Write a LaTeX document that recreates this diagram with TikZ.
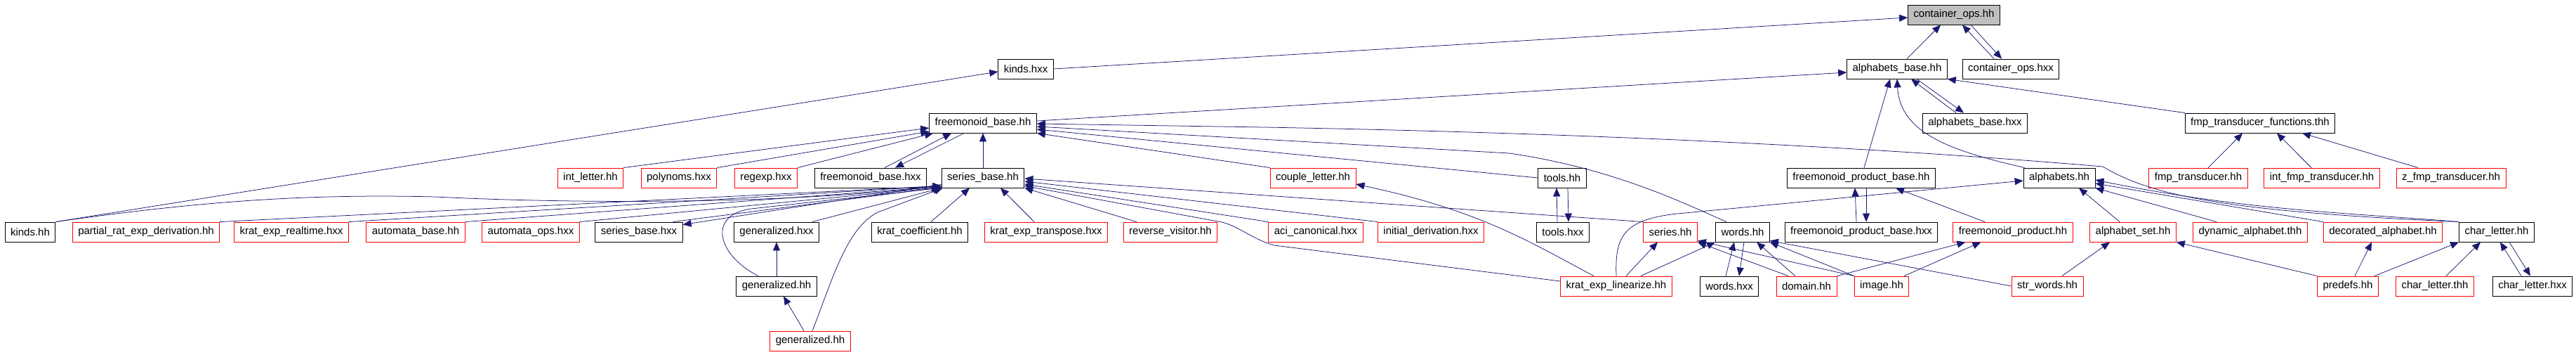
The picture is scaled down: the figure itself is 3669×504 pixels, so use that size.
\documentclass[tikz,border=0pt]{standalone}
\usepackage{fontspec}
\setmainfont{Liberation Sans}
\usetikzlibrary{arrows.meta}
\definecolor{edgeblue}{HTML}{191970}
\definecolor{rootgray}{HTML}{BFBFBF}
\begin{document}
\begin{tikzpicture}[x=1pt,y=1pt,
  filebox/.style={draw=black,line width=0.9pt,minimum height=28pt,inner xsep=8pt,inner ysep=0pt,
    font=\fontsize{15}{18}\selectfont},
  redbox/.style={filebox,draw=red},
  dep/.style={draw=edgeblue,line width=0.75pt,-{Triangle[length=12pt,width=10pt]}}]
\useasboundingbox (0,0) rectangle (3669,-504);

\node[filebox,fill=rootgray](cops) at(2783,-21){container\_ops.hh};

\node[filebox](kindsx) at(1461,-98){kinds.hxx};
\node[filebox](abase) at(2702,-98){alphabets\_base.hh};
\node[filebox](copsx) at(2864,-98){container\_ops.hxx};

\node[filebox](fmbase) at(1400,-175){freemonoid\_base.hh};
\node[filebox](abasex) at(2813,-175){alphabets\_base.hxx};
\node[filebox](fmptf) at(3219,-175){fmp\_transducer\_functions.thh};

\node[redbox](intletter) at(841,-253){int\_letter.hh};
\node[redbox](polynoms) at(967,-253){polynoms.hxx};
\node[redbox](regexp) at(1091,-253){regexp.hxx};
\node[filebox](fmbasex) at(1240,-253){freemonoid\_base.hxx};
\node[filebox](sbase) at(1400,-253){series\_base.hh};
\node[redbox](couple) at(1870,-253){couple\_letter.hh};
\node[filebox](tools) at(2225,-253){tools.hh};
\node[filebox](fmpb) at(2651,-253){freemonoid\_product\_base.hh};
\node[filebox](alphabets) at(2933,-253){alphabets.hh};
\node[redbox](fmpt) at(3131,-253){fmp\_transducer.hh};
\node[redbox](intfmpt) at(3307,-253){int\_fmp\_transducer.hh};
\node[redbox](zfmpt) at(3491,-253){z\_fmp\_transducer.hh};

\node[filebox](kinds) at(43,-330){kinds.hh};
\node[redbox](partial) at(208,-330){partial\_rat\_exp\_derivation.hh};
\node[redbox](realtime) at(415,-330){krat\_exp\_realtime.hxx};
\node[redbox](autbase) at(592,-330){automata\_base.hh};
\node[redbox](autops) at(756,-330){automata\_ops.hxx};
\node[filebox](sbasex) at(910,-330){series\_base.hxx};
\node[filebox](genx) at(1106,-330){generalized.hxx};
\node[filebox](kratcoef) at(1310,-330){krat\_coefficient.hh};
\node[redbox](transpose) at(1490,-330){krat\_exp\_transpose.hxx};
\node[redbox](reverse) at(1667,-330){reverse\_visitor.hh};
\node[redbox](aci) at(1874,-330){aci\_canonical.hxx};
\node[redbox](initial) at(2038,-330){initial\_derivation.hxx};
\node[filebox](toolsx) at(2226,-330){tools.hxx};
\node[redbox](series) at(2379,-330){series.hh};
\node[filebox](words) at(2482,-330){words.hh};
\node[filebox](fmpbx) at(2651,-330){freemonoid\_product\_base.hxx};
\node[redbox](fmprod) at(2867,-330){freemonoid\_product.hh};
\node[redbox](aset) at(3038,-330){alphabet\_set.hh};
\node[redbox](dynalpha) at(3205,-330){dynamic\_alphabet.thh};
\node[redbox](decalpha) at(3394,-330){decorated\_alphabet.hh};
\node[filebox](charletter) at(3556,-330){char\_letter.hh};

\node[filebox](gen) at(1106,-407){generalized.hh};
\node[redbox](linearize) at(2302,-407){krat\_exp\_linearize.hh};
\node[filebox](wordsx) at(2463,-407){words.hxx};
\node[redbox](domain) at(2573,-407){domain.hh};
\node[redbox](image) at(2680,-407){image.hh};
\node[redbox](strwords) at(2916,-407){str\_words.hh};
\node[redbox](predefs) at(3344,-407){predefs.hh};
\node[redbox](charthh) at(3468,-407){char\_letter.thh};
\node[filebox](charhxx) at(3607,-407){char\_letter.hxx};

\node[redbox](genred) at(1154,-485){generalized.hh};

\draw[dep]([xshift=14pt]abase.north)--([xshift=-19pt]cops.south);
\draw[dep]([xshift=-24pt]copsx.north)--([xshift=12pt]cops.south);
\draw[dep]([xshift=24pt]cops.south)--([xshift=-13pt]copsx.north);
\draw[dep](kindsx.east)--([yshift=-4pt]cops.west);
\draw[dep](kinds.north east)--([yshift=-4pt]kindsx.west);

\draw[dep]([yshift=3pt]fmbase.east)--([yshift=-5pt]abase.west);
\draw[dep]([xshift=-27pt]abasex.north)--([xshift=20pt]abase.south);
\draw[dep]([xshift=28pt]abase.south)--([xshift=-16pt]abasex.north);
\draw[dep]([xshift=4pt]fmpb.north)--([xshift=-10pt]abase.south);
\draw[dep]([xshift=2pt]alphabets.north west) .. controls(2780,-215) and (2706,-190) .. (abase.south);
\draw[dep](fmptf.north west)--(abase.south east);

\draw[dep]([xshift=14pt]fmpt.north)--([xshift=-25pt]fmptf.south);
\draw[dep]([xshift=-15pt]intfmpt.north)--([xshift=24pt]fmptf.south);
\draw[dep]([xshift=-47pt]zfmpt.north)--([xshift=60pt]fmptf.south);

\draw[dep](intletter.north east)--([yshift=-7pt]fmbase.west);
\draw[dep](polynoms.north east)--([yshift=-12pt]fmbase.west);
\draw[dep](regexp.north east)--([xshift=6pt]fmbase.south west);
\draw[dep]([xshift=20pt]fmbasex.north)--([xshift=32pt]fmbase.south west);
\draw[dep]([xshift=50pt]fmbase.south west)--([xshift=35pt]fmbasex.north);
\draw[dep](sbase.north)--(fmbase.south);
\draw[dep](couple.north west)--(fmbase.south east);
\draw[dep](tools.west)--([yshift=-9pt]fmbase.east);
\draw[dep]([xshift=-23pt]words.north) .. controls(2400,-290) and (2300,-240) .. (2150,-218)--([yshift=-5pt]fmbase.east);
\draw[dep](charletter.north west) .. controls(3150,-300) and (3060,-275) .. (2995,-237)
  .. controls(2700,-212) and (2300,-190) .. (1800,-181)--([yshift=-1pt]fmbase.east);

\draw[dep]([xshift=-8pt]toolsx.north)--([xshift=-8pt]tools.south);
\draw[dep]([xshift=8pt]tools.south)--([xshift=8pt]toolsx.north);
\draw[dep]([xshift=-7pt]fmpbx.north)--([xshift=-9pt]fmpb.south);
\draw[dep]([xshift=7pt]fmpb.south)--([xshift=7pt]fmpbx.north);
\draw[dep]([xshift=-40pt]fmprod.north)--([xshift=49pt]fmpb.south);

\draw[dep](linearize.north) .. controls(2300,-335) and (2312,-310) .. (2400,-303)--([yshift=-4pt]alphabets.west);
\draw[dep]([xshift=-19pt]aset.north)--([xshift=28pt]alphabets.south);
\draw[dep]([xshift=-48pt]dynalpha.north)--(alphabets.south east);
\draw[dep](decalpha.north west)--([yshift=-8pt]alphabets.east);
\draw[dep](charletter.north west) .. controls(3350,-303) and (3200,-300) .. ([yshift=-3pt]alphabets.east);

\draw[dep](kinds.north east) .. controls(300,-284) and (450,-276) .. (620,-280)
  .. controls(800,-289) and (1100,-292) .. ([yshift=3pt]sbase.south west);
\draw[dep](partial.north east)--([yshift=3pt]sbase.south west);
\draw[dep](realtime.north east)--([yshift=3pt]sbase.south west);
\draw[dep](autbase.north east)--([yshift=2pt]sbase.south west);
\draw[dep](autops.north east)--([yshift=1pt]sbase.south west);
\draw[dep]([xshift=-14pt]sbasex.north east)--([yshift=1pt]sbase.south west);
\draw[dep]([yshift=5pt]sbase.south west)--([yshift=-4pt]sbasex.north east);
\draw[dep]([xshift=-10pt]genx.north east)--(sbase.south west);
\draw[dep]([xshift=-26pt]gen.north) .. controls(1020,-362) and (1008,-305) .. (1070,-297)--([xshift=-2pt]sbase.south west);
\draw[dep]([xshift=3pt]genred.north) .. controls(1185,-400) and (1205,-325) .. (1250,-302)--([xshift=2pt]sbase.south west);
\draw[dep]([xshift=16pt]kratcoef.north)--([xshift=-19pt]sbase.south);
\draw[dep]([xshift=-17pt]transpose.north)--([xshift=25pt]sbase.south);
\draw[dep]([xshift=19pt]reverse.north west)--(sbase.south east);
\draw[dep](aci.north west)--([yshift=-9pt]sbase.east);
\draw[dep](initial.north west)--([yshift=-5pt]sbase.east);
\draw[dep](series.north west)--([yshift=-1pt]sbase.east);
\draw[dep]([yshift=7pt]linearize.west)--(1815,-349) .. controls(1785,-341) and (1765,-322) .. (1740,-316)--([yshift=3pt]sbase.south east);

\draw[dep](gen.north)--(genx.south);
\draw[dep]([xshift=-9pt]genred.north)--([xshift=10pt]gen.south);

\draw[dep]([xshift=-32pt]linearize.north) .. controls(2180,-345) and (2110,-300) .. ([yshift=-9pt]couple.east);
\draw[dep]([xshift=14pt]linearize.north)--([xshift=-18pt]series.south);
\draw[dep]([xshift=35pt]linearize.north)--(words.south west);
\draw[dep]([xshift=-26pt]domain.north)--(series.south east);
\draw[dep](image.north west)--([yshift=2pt]series.south east);

\draw[dep]([xshift=-5pt]wordsx.north)--([xshift=-12pt]words.south);
\draw[dep]([xshift=2pt]words.south)--([xshift=14pt]wordsx.north);
\draw[dep]([xshift=-16pt]domain.north)--([xshift=20pt]words.south);
\draw[dep](image.north west)--(words.south east);
\draw[dep](strwords.west)--([yshift=2pt]words.south east);
\draw[dep](domain.north east)--([xshift=18pt]fmprod.south west);
\draw[dep]([xshift=32pt]image.north)--([xshift=40pt]fmprod.south west);

\draw[dep]([xshift=21pt]strwords.north)--([xshift=-33pt]aset.south);
\draw[dep](predefs.north west)--(aset.south east);
\draw[dep]([xshift=10pt]predefs.north)--([xshift=-16pt]decalpha.south);
\draw[dep]([xshift=38pt]predefs.north)--(charletter.south west);
\draw[dep]([xshift=16pt]charthh.north)--([xshift=-23pt]charletter.south);
\draw[dep]([xshift=-16pt]charhxx.north)--([xshift=5pt]charletter.south);
\draw[dep]([xshift=18pt]charletter.south)--([xshift=-3pt]charhxx.north);
\end{tikzpicture}
\end{document}
